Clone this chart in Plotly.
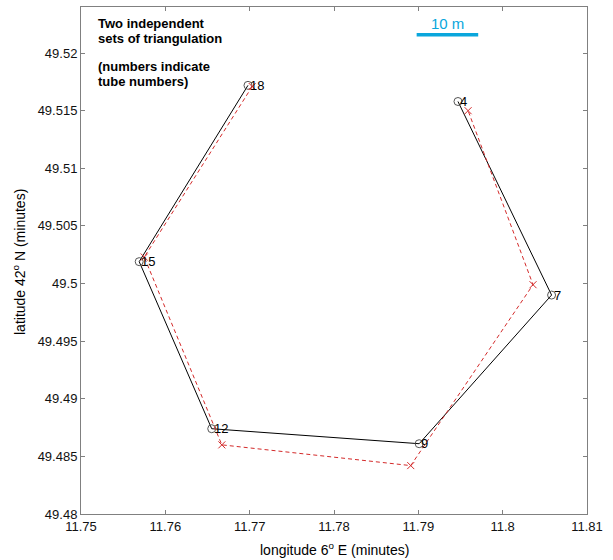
import plotly.graph_objects as go

# ---- data ----
tubes = ["18", "15", "12", "9", "7", "4"]
set1_lon = [11.7698, 11.7569, 11.7655, 11.7901, 11.8058, 11.7947]
set1_lat = [49.5172, 49.5019, 49.4874, 49.4861, 49.4990, 49.5158]
set2_lon = [11.7703, 11.7575, 11.7667, 11.7891, 11.8036, 11.7959]
set2_lat = [49.5171, 49.5023, 49.4860, 49.4842, 49.4999, 49.5150]

x_ticks = [11.75, 11.76, 11.77, 11.78, 11.79, 11.80, 11.81]
x_ticklabels = ["11.75", "11.76", "11.77", "11.78", "11.79", "11.8", "11.81"]
y_ticks = [49.48, 49.485, 49.49, 49.495, 49.50, 49.505, 49.51, 49.515, 49.52]
y_ticklabels = ["49.48", "49.485", "49.49", "49.495", "49.5", "49.505", "49.51", "49.515", "49.52"]

scale_lon = [11.7898, 11.7971]
scale_lat = [49.5216, 49.5216]
scale_label = "10 m"

FONT = "Liberation Sans, Arial, sans-serif"
BLUE = "#0aa6dc"

W, H = 613, 560
L, R, T, B = 81, 26, 7, 46
PW, PH = W - L - R, H - T - B


def px(xp):
    return (xp - L) / PW


def py(yp):
    return (H - B - yp) / PH


fig = go.Figure()

fig.add_trace(go.Scatter(x=set1_lon, y=set1_lat, mode="lines",
                         line=dict(color="black", width=1), showlegend=False, hoverinfo="skip"))
fig.add_trace(go.Scatter(x=set1_lon, y=set1_lat, mode="markers",
                         marker=dict(symbol="circle-open", size=8, color="#555555", line=dict(width=1)),
                         showlegend=False))
fig.add_trace(go.Scatter(x=set2_lon, y=set2_lat, mode="lines+markers",
                         line=dict(color="#d42a2a", width=1, dash="4px,3px"),
                         marker=dict(symbol="x-thin-open", size=7, color="#d42a2a",
                                     line=dict(width=1, color="#d42a2a")),
                         showlegend=False))
fig.add_trace(go.Scatter(x=scale_lon, y=scale_lat, mode="lines",
                         line=dict(color=BLUE, width=3.5), showlegend=False))

for lon, lat, t in zip(set1_lon, set1_lat, tubes):
    fig.add_annotation(x=lon, y=lat, xref="x", yref="y", text=t, showarrow=False,
                       xanchor="left", yanchor="middle", xshift=0,
                       font=dict(family=FONT, size=13, color="black"))

fig.add_annotation(x=sum(scale_lon) / 2, y=scale_lat[0], xref="x", yref="y",
                   text=scale_label, showarrow=False, yanchor="bottom", yshift=1,
                   font=dict(family=FONT, size=15, color=BLUE))

note_lines = ["Two independent", "sets of triangulation", "(numbers indicate", "tube numbers)"]
note_y = [24, 39, 66, 82]
for t, yp in zip(note_lines, note_y):
    fig.add_annotation(x=px(96), y=py(yp), xref="paper", yref="paper",
                       text="<b>" + t + "</b>", showarrow=False,
                       xanchor="left", yanchor="middle",
                       font=dict(family=FONT, size=13, color="black"))

fig.add_annotation(x=px(334), y=py(549), xref="paper", yref="paper",
                   text="longitude 6<sup>o</sup> E (minutes)", showarrow=False,
                   xanchor="center", yanchor="middle",
                   font=dict(family=FONT, size=14, color="black"))
fig.add_annotation(x=px(19), y=py(262), xref="paper", yref="paper",
                   text="latitude 42<sup>o</sup> N (minutes)", showarrow=False, textangle=-90,
                   xanchor="center", yanchor="middle",
                   font=dict(family=FONT, size=14, color="black"))

axis_common = dict(showgrid=False, zeroline=False, showline=True, linecolor="#808080", linewidth=1,
                   mirror="ticks", ticks="inside", ticklen=4, tickcolor="#808080",
                   tickfont=dict(family=FONT, size=13, color="#111111"))

fig.update_xaxes(range=[11.75, 11.81], tickvals=x_ticks, ticktext=x_ticklabels, **axis_common)
fig.update_yaxes(range=[49.48, 49.524], tickvals=y_ticks, ticktext=y_ticklabels, **axis_common)

fig.update_layout(width=W, height=H, margin=dict(l=L, r=R, t=T, b=B),
                  plot_bgcolor="white", paper_bgcolor="white", showlegend=False)

fig.write_html("out.html", config={"displayModeBar": False},
               post_script="document.body.style.margin='0px';document.body.style.overflow='hidden';")
